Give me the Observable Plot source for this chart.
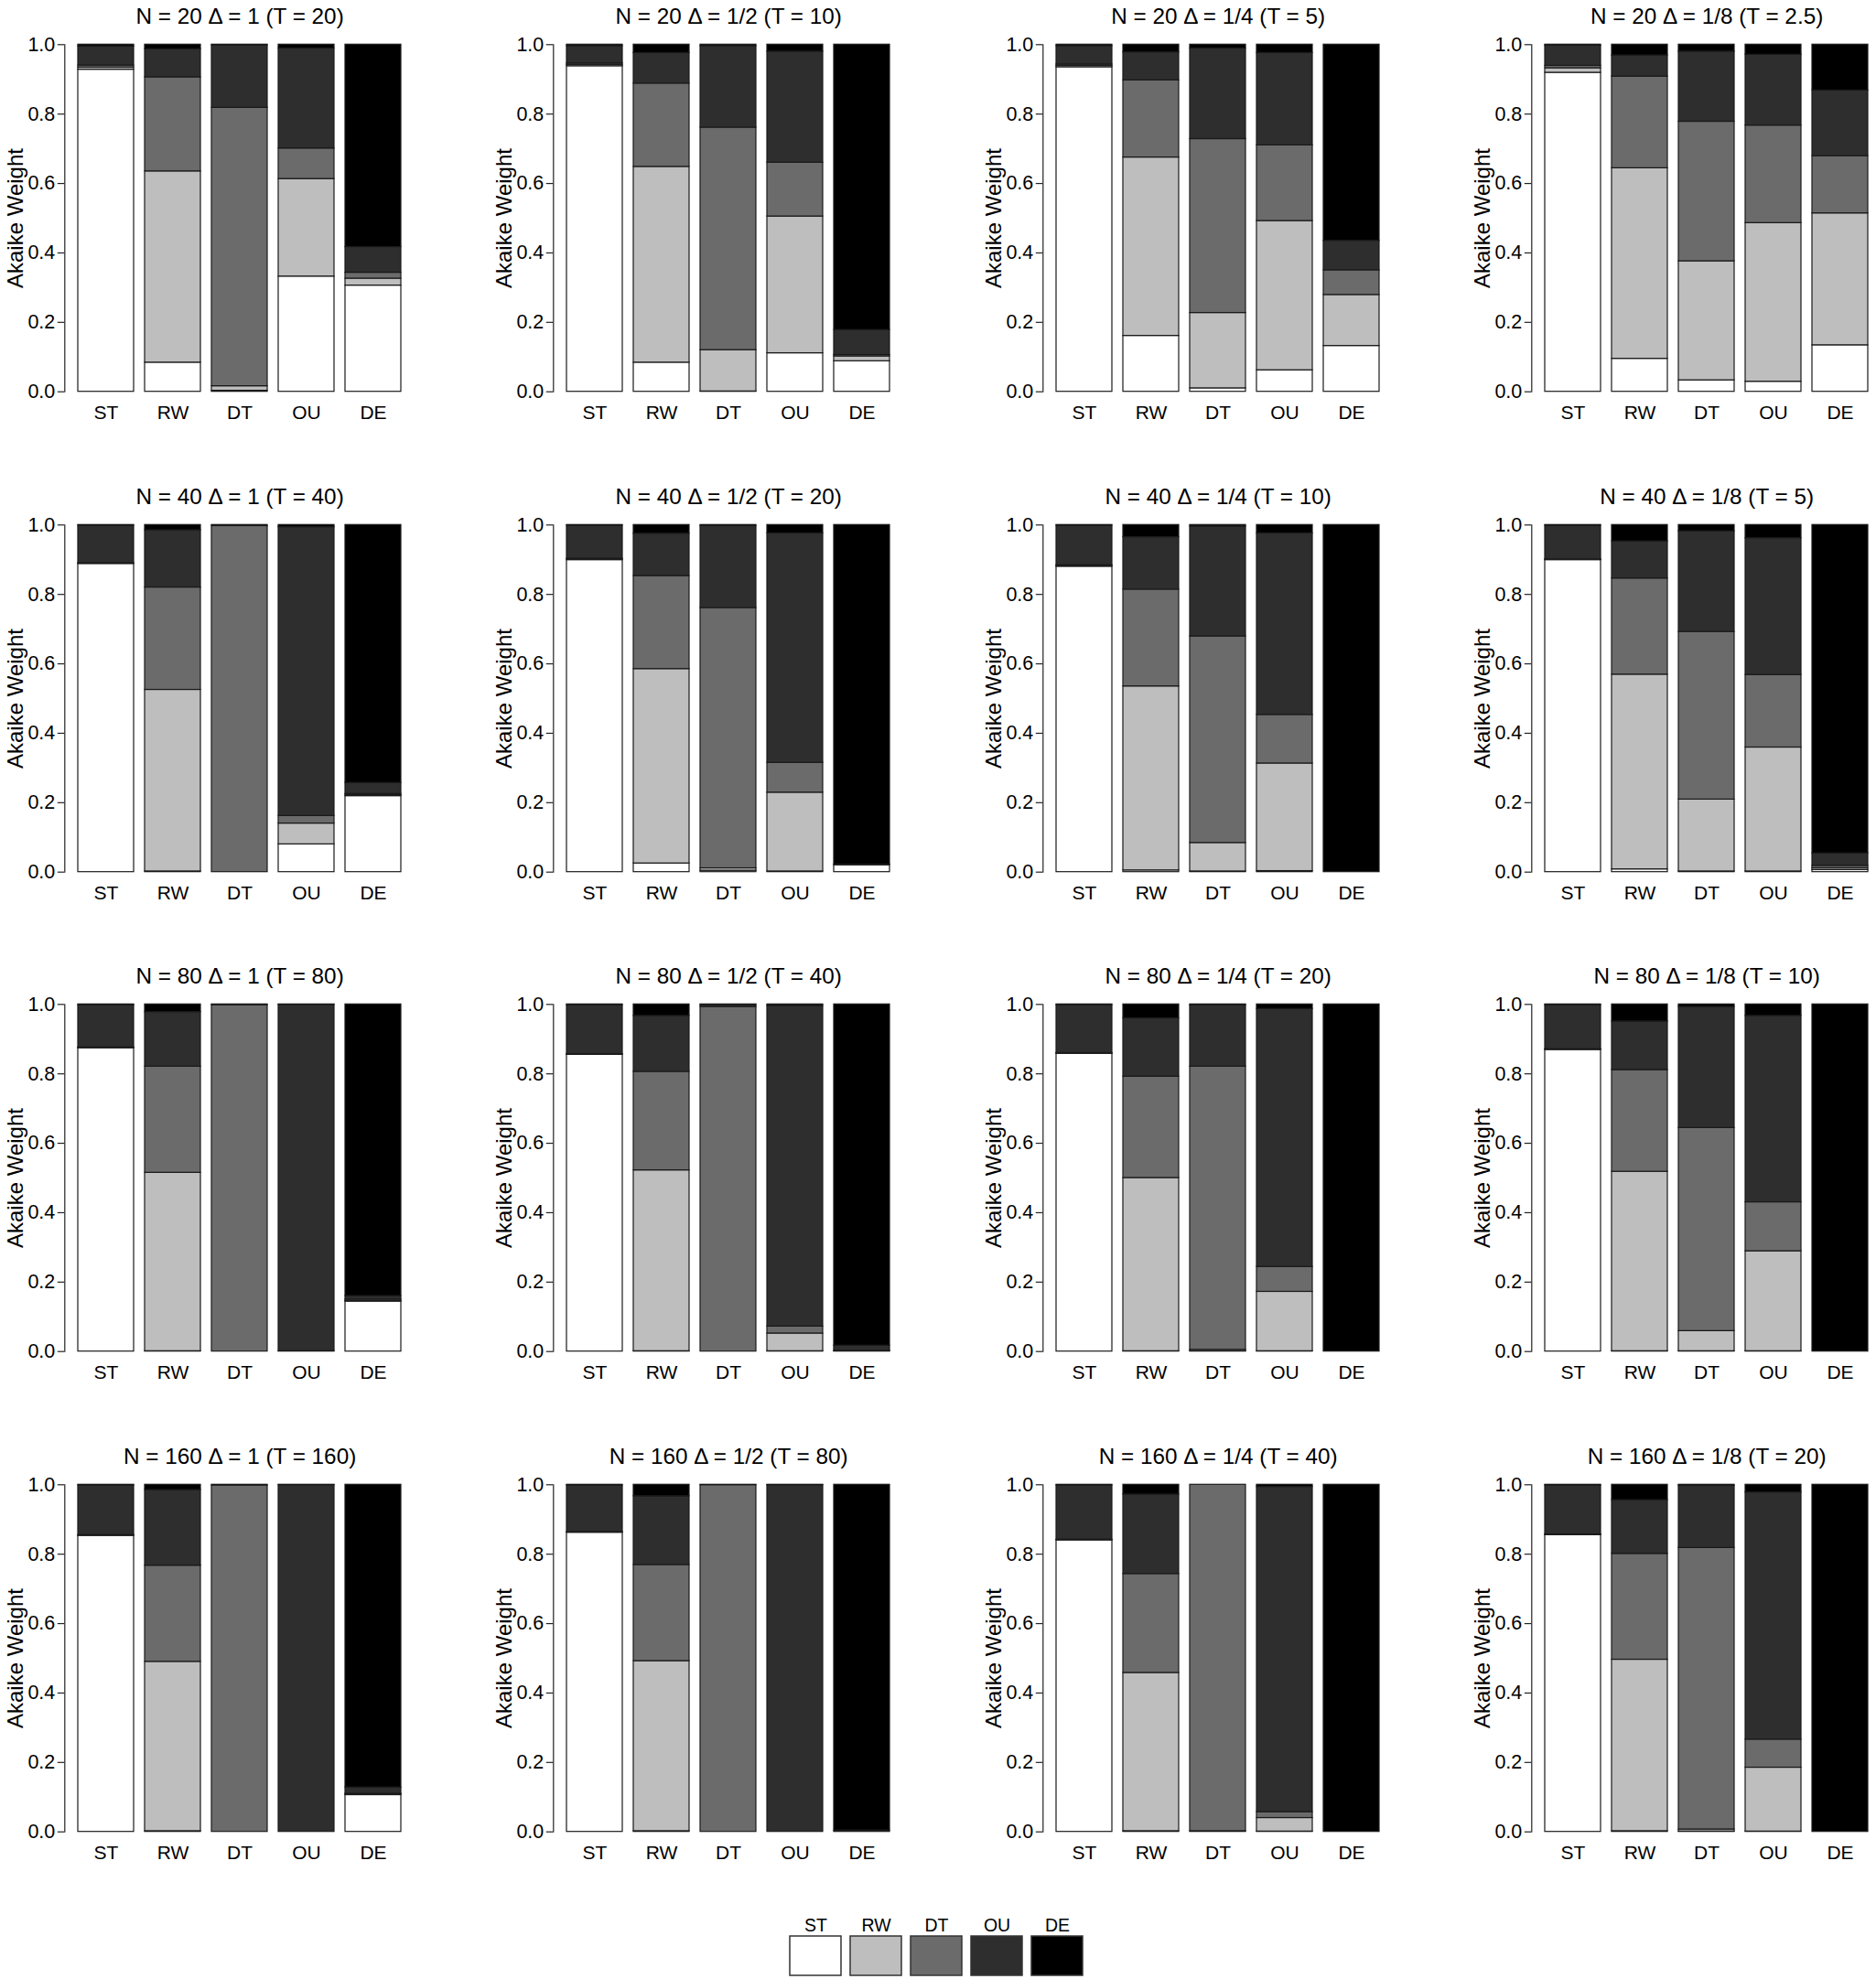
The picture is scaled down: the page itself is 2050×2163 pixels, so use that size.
<!DOCTYPE html>
<html>
<head>
<meta charset="utf-8">
<script src="https://cdn.jsdelivr.net/npm/d3@7"></script>
<script src="https://cdn.jsdelivr.net/npm/@observablehq/plot@0.6"></script>
<style>
  html, body { margin: 0; padding: 0; background: #fff; }
  #root { position: relative; width: 2050px; height: 2163px; overflow: hidden; background: #fff;
          font-family: "Liberation Sans", Arial, Helvetica, sans-serif; }
  .panel { position: absolute; overflow: visible; }
  .panel svg { max-width: none !important; display: block; }
</style>
</head>
<body>
<div id="root"></div>
<script>
// ---------- data ----------
const models = ["ST", "RW", "DT", "OU", "DE"];
const modelColors = ["#ffffff", "#bebebe", "#6b6b6b", "#2e2e2e", "#000000"];
const Nvalues = [20, 40, 80, 160];
const deltaLabels = ["1", "1/2", "1/4", "1/8"];
const Tvalues = [
  ["20", "10", "5", "2.5"],
  ["40", "20", "10", "5"],
  ["80", "40", "20", "10"],
  ["160", "80", "40", "20"]
];
const yTicks = [0, 0.2, 0.4, 0.6, 0.8, 1.0];
const yLabel = "Akaike Weight";

// rows = true (generating) model ST,RW,DT,OU,DE ; columns = weight of fitted ST,RW,DT,OU,DE
const w_N20_d1 = [
  [0.928, 0.006, 0.006, 0.055, 0.005],
  [0.084, 0.551, 0.271, 0.081, 0.013],
  [0.003, 0.013, 0.802, 0.180, 0.002],
  [0.332, 0.281, 0.088, 0.288, 0.011],
  [0.306, 0.020, 0.017, 0.074, 0.583]
];
const w_N20_d2 = [
  [0.938, 0.004, 0.004, 0.050, 0.004],
  [0.084, 0.564, 0.240, 0.088, 0.024],
  [0.001, 0.119, 0.641, 0.235, 0.004],
  [0.111, 0.394, 0.155, 0.320, 0.020],
  [0.088, 0.014, 0.004, 0.072, 0.822]
];
const w_N20_d4 = [
  [0.935, 0.004, 0.004, 0.053, 0.004],
  [0.161, 0.514, 0.222, 0.081, 0.022],
  [0.010, 0.217, 0.501, 0.261, 0.011],
  [0.062, 0.430, 0.218, 0.266, 0.024],
  [0.132, 0.147, 0.071, 0.085, 0.565]
];
const w_N20_d8 = [
  [0.919, 0.013, 0.007, 0.058, 0.003],
  [0.095, 0.549, 0.264, 0.061, 0.031],
  [0.033, 0.343, 0.402, 0.202, 0.020],
  [0.029, 0.457, 0.281, 0.204, 0.029],
  [0.134, 0.380, 0.165, 0.189, 0.132]
];
const w_N40_d1 = [
  [0.888, 0.001, 0.001, 0.108, 0.002],
  [0.002, 0.523, 0.295, 0.165, 0.015],
  [0.000, 0.000, 0.997, 0.003, 0.000],
  [0.080, 0.060, 0.022, 0.832, 0.006],
  [0.219, 0.003, 0.003, 0.032, 0.743]
];
const w_N40_d2 = [
  [0.899, 0.002, 0.002, 0.095, 0.002],
  [0.025, 0.560, 0.268, 0.122, 0.025],
  [0.004, 0.007, 0.750, 0.236, 0.003],
  [0.002, 0.227, 0.086, 0.661, 0.024],
  [0.020, 0.000, 0.000, 0.002, 0.978]
];
const w_N40_d4 = [
  [0.880, 0.002, 0.002, 0.114, 0.002],
  [0.005, 0.530, 0.279, 0.151, 0.035],
  [0.002, 0.082, 0.595, 0.317, 0.004],
  [0.003, 0.310, 0.140, 0.523, 0.024],
  [0.000, 0.000, 0.000, 0.000, 1.000]
];
const w_N40_d8 = [
  [0.899, 0.001, 0.001, 0.097, 0.002],
  [0.008, 0.561, 0.277, 0.107, 0.047],
  [0.002, 0.207, 0.483, 0.290, 0.018],
  [0.002, 0.357, 0.209, 0.394, 0.038],
  [0.006, 0.005, 0.007, 0.036, 0.946]
];
const w_N80_d1 = [
  [0.874, 0.001, 0.001, 0.122, 0.002],
  [0.001, 0.514, 0.306, 0.157, 0.022],
  [0.000, 0.000, 0.998, 0.002, 0.000],
  [0.000, 0.000, 0.001, 0.998, 0.001],
  [0.144, 0.002, 0.004, 0.010, 0.840]
];
const w_N80_d2 = [
  [0.855, 0.001, 0.001, 0.141, 0.002],
  [0.001, 0.521, 0.284, 0.161, 0.033],
  [0.000, 0.000, 0.993, 0.006, 0.001],
  [0.001, 0.051, 0.020, 0.924, 0.004],
  [0.001, 0.000, 0.001, 0.015, 0.983]
];
const w_N80_d4 = [
  [0.858, 0.001, 0.001, 0.138, 0.002],
  [0.001, 0.499, 0.292, 0.168, 0.040],
  [0.001, 0.004, 0.816, 0.177, 0.002],
  [0.001, 0.171, 0.072, 0.743, 0.013],
  [0.000, 0.000, 0.000, 0.000, 1.000]
];
const w_N80_d8 = [
  [0.869, 0.001, 0.001, 0.127, 0.002],
  [0.001, 0.517, 0.293, 0.140, 0.049],
  [0.001, 0.058, 0.585, 0.349, 0.007],
  [0.001, 0.288, 0.141, 0.537, 0.033],
  [0.000, 0.000, 0.000, 0.000, 1.000]
];
const w_N160_d1 = [
  [0.853, 0.001, 0.001, 0.143, 0.002],
  [0.002, 0.488, 0.277, 0.218, 0.015],
  [0.000, 0.000, 0.998, 0.002, 0.000],
  [0.000, 0.000, 0.000, 0.999, 0.001],
  [0.106, 0.002, 0.002, 0.018, 0.872]
];
const w_N160_d2 = [
  [0.862, 0.001, 0.001, 0.134, 0.002],
  [0.002, 0.490, 0.277, 0.198, 0.033],
  [0.000, 0.000, 0.999, 0.001, 0.000],
  [0.000, 0.000, 0.000, 0.999, 0.001],
  [0.000, 0.000, 0.000, 0.004, 0.996]
];
const w_N160_d4 = [
  [0.840, 0.001, 0.001, 0.156, 0.002],
  [0.002, 0.456, 0.285, 0.229, 0.028],
  [0.000, 0.002, 0.998, 0.000, 0.000],
  [0.001, 0.039, 0.017, 0.937, 0.006],
  [0.000, 0.000, 0.000, 0.000, 1.000]
];
const w_N160_d8 = [
  [0.855, 0.001, 0.001, 0.141, 0.002],
  [0.002, 0.494, 0.305, 0.155, 0.044],
  [0.001, 0.006, 0.811, 0.179, 0.003],
  [0.001, 0.184, 0.081, 0.712, 0.022],
  [0.000, 0.000, 0.000, 0.000, 1.000]
];

const panelWeights = [
  [w_N20_d1, w_N20_d2, w_N20_d4, w_N20_d8],
  [w_N40_d1, w_N40_d2, w_N40_d4, w_N40_d8],
  [w_N80_d1, w_N80_d2, w_N80_d4, w_N80_d8],
  [w_N160_d1, w_N160_d2, w_N160_d4, w_N160_d8]
];

// ---------- layout ----------
const root = document.getElementById("root");
const FONT = '"Liberation Sans", Arial, Helvetica, sans-serif';
const colStep = 534.3, rowStep = 524.5;
const panelW = 460, panelH = 500;
const mLeft = 70.3, mTop = 48.3, mBottom = panelH - 427.7, mRight = panelW - 453;

function panel(weights, title) {
  const rows = [];
  weights.forEach((ws, i) => ws.forEach((w, j) => rows.push({truth: models[i], fit: models[j], w})));
  return Plot.plot({
    width: panelW, height: panelH,
    marginLeft: mLeft, marginRight: mRight, marginTop: mTop, marginBottom: mBottom,
    style: {fontFamily: FONT, background: "transparent", color: "#000", overflow: "visible", maxWidth: "none"},
    x: {domain: models, paddingInner: 0.164, paddingOuter: 0.19, axis: null, label: null},
    y: {domain: [0, 1], axis: null, label: null},
    color: {domain: models, range: modelColors},
    marks: [
      Plot.barY(rows, {x: "truth", y: "w", fill: "fit", stroke: "#1a1a1a", strokeWidth: 1.2, order: null}),
      Plot.frame({anchor: "left", stroke: "#222", strokeWidth: 1.2}),
      Plot.axisY({ticks: yTicks, tickFormat: d3.format(".1f"), tickSize: 7.5, tickPadding: 3,
                  fontSize: 21.5, label: null, stroke: "#222", strokeWidth: 1.2}),
      Plot.axisX({tickSize: 0, tickPadding: 15, fontSize: 21, label: null}),
      Plot.text([title], {text: d => d, frameAnchor: "top", textAnchor: "middle", dy: -23.3, lineAnchor: "bottom", fontSize: 24.3}),
      Plot.text([yLabel], {text: d => d, frameAnchor: "left", textAnchor: "middle", rotate: -90, dx: -46.3, lineAnchor: "bottom", fontSize: 24})
    ]
  });
}

Nvalues.forEach((N, r) => {
  deltaLabels.forEach((d, c) => {
    const title = `N = ${N} \u0394 = ${d} (T = ${Tvalues[r][c]})`;
    const svg = panel(panelWeights[r][c], title);
    const div = document.createElement("div");
    div.className = "panel";
    div.style.left = (c * colStep) + "px";
    div.style.top = (r * rowStep) + "px";
    div.style.width = panelW + "px";
    div.style.height = panelH + "px";
    div.appendChild(svg);
    root.appendChild(div);
  });
});

// ---------- legend ----------
const legend = Plot.plot({
  width: 362, height: 77,
  marginLeft: 20, marginRight: 20, marginTop: 30, marginBottom: 4,
  style: {fontFamily: FONT, background: "transparent", color: "#000", overflow: "visible", maxWidth: "none"},
  x: {domain: models, paddingInner: 0.158, paddingOuter: 0, axis: null, label: null},
  color: {domain: models, range: modelColors},
  marks: [
    Plot.cell(models, {x: d => d, fill: d => d, stroke: "#333", strokeWidth: 1.5}),
    Plot.axisX({anchor: "top", tickSize: 0, tickPadding: 6, fontSize: 19.5, label: null})
  ]
});
const ldiv = document.createElement("div");
ldiv.className = "panel";
ldiv.style.left = "842px";
ldiv.style.top = "2086px";
ldiv.style.width = "362px";
ldiv.appendChild(legend);
root.appendChild(ldiv);
</script>
</body>
</html>
